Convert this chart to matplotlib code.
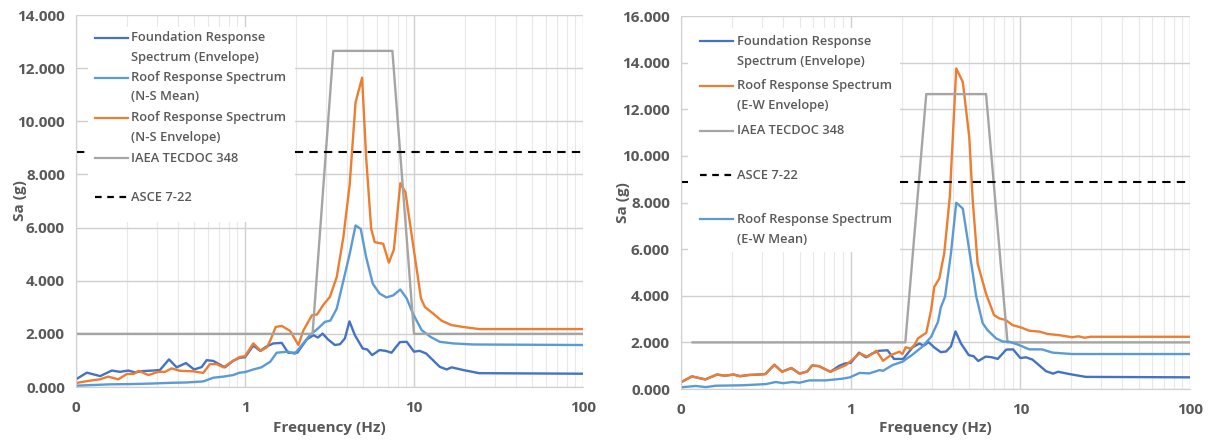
import matplotlib
matplotlib.use("Agg")
import matplotlib.pyplot as plt
from matplotlib.patches import Rectangle
from matplotlib.lines import Line2D
from matplotlib.ticker import FuncFormatter, LogLocator, MultipleLocator, NullFormatter

plt.rcParams['font.family'] = ['Open Sans', 'DejaVu Sans']
plt.rcParams['font.weight'] = 'bold'
plt.rcParams['axes.labelweight'] = 'bold'

# ---------------- data ----------------
# foundation envelope, same in both panels
found_f = [0.1, 0.116, 0.139, 0.163, 0.182, 0.204, 0.223, 0.25, 0.286, 0.314, 0.355,
           0.394, 0.447, 0.5, 0.554, 0.593, 0.65, 0.711, 0.76, 0.853, 0.93, 1.0, 1.12,
           1.23, 1.33, 1.47, 1.65, 1.8, 2.04, 2.32, 2.54, 2.7, 2.88, 3.1, 3.4, 3.65,
           3.9, 4.15, 4.47, 4.97, 5.3, 5.65, 6.25, 6.8, 7.36, 8.26, 9.06, 10.0, 10.8,
           11.8, 14.2, 15.6, 16.7, 19.5, 24.3, 100]
found_v = [0.29, 0.54, 0.41, 0.62, 0.57, 0.62, 0.55, 0.6, 0.62, 0.64, 1.04,
           0.74, 0.9, 0.66, 0.75, 1.01, 0.98, 0.84, 0.74, 0.99, 1.1, 1.12, 1.56,
           1.36, 1.51, 1.64, 1.66, 1.29, 1.29, 1.79, 1.95, 1.86, 2.01, 1.79, 1.58, 1.61,
           1.83, 2.47, 1.95, 1.45, 1.41, 1.2, 1.39, 1.36, 1.29, 1.69, 1.7, 1.33, 1.36,
           1.26, 0.76, 0.66, 0.74, 0.64, 0.52, 0.5]

# left panel: N-S
ns_mean_f = [0.1, 0.159, 0.209, 0.28, 0.376, 0.45, 0.566, 0.65, 0.745, 0.853, 0.93, 1.0,
             1.12, 1.25, 1.41, 1.54, 1.8, 1.97, 2.17, 2.42, 2.7, 2.97, 3.2, 3.49, 3.82,
             4.16, 4.51, 4.84, 5.21, 5.7, 6.25, 6.87, 7.54, 8.3, 9.06, 9.86, 11.1, 12.5,
             14.2, 17.1, 22.5, 100]
ns_mean_v = [0.05, 0.1, 0.11, 0.13, 0.16, 0.17, 0.21, 0.35, 0.39, 0.45, 0.54, 0.56,
             0.66, 0.74, 0.95, 1.29, 1.33, 1.25, 1.58, 1.95, 2.2, 2.45, 2.5, 2.95, 4.0,
             5.0, 6.08, 5.95, 4.89, 3.89, 3.52, 3.37, 3.45, 3.67, 3.33, 2.76, 2.14, 1.89,
             1.7, 1.64, 1.6, 1.58]

ns_env_f = [0.1, 0.121, 0.139, 0.155, 0.178, 0.2, 0.22, 0.234, 0.268, 0.307, 0.336,
            0.368, 0.412, 0.494, 0.566, 0.62, 0.68, 0.745, 0.853, 0.93, 1.0, 1.12, 1.24,
            1.35, 1.42, 1.52, 1.65, 1.85, 2.07, 2.22, 2.49, 2.67, 2.92, 3.18, 3.49, 3.82,
            4.16, 4.51, 4.93, 5.21, 5.58, 5.86, 6.57, 7.1, 7.6, 8.3, 8.9, 9.86, 11.0,
            11.6, 13.0, 14.6, 16.7, 19.5, 24.3, 100]
ns_env_v = [0.15, 0.24, 0.29, 0.39, 0.29, 0.49, 0.49, 0.61, 0.45, 0.57, 0.57,
            0.7, 0.61, 0.59, 0.53, 0.86, 0.86, 0.74, 0.99, 1.13, 1.16, 1.64, 1.36,
            1.5, 1.79, 2.26, 2.3, 2.11, 1.58, 2.14, 2.7, 2.73, 3.11, 3.39, 4.14, 5.64,
            7.6, 10.71, 11.64, 8.64, 5.95, 5.45, 5.39, 4.68, 5.17, 7.67, 7.33, 5.39, 3.33,
            3.01, 2.76, 2.49, 2.33, 2.26, 2.18, 2.18]

iaea_l_f = [0.1, 2.51, 3.33, 7.45, 10.0, 100]
iaea_r_f = [0.117, 2.1, 2.79, 6.28, 8.4, 100]
iaea_v = [2.0, 2.0, 12.65, 12.65, 2.0, 2.0]

asce_f = [0.1, 100]
asce_v = [8.86, 8.86]

# right panel: E-W
ew_env_f = [0.1, 0.116, 0.139, 0.163, 0.182, 0.204, 0.223, 0.25, 0.286, 0.314, 0.355,
            0.394, 0.447, 0.5, 0.554, 0.593, 0.65, 0.711, 0.76, 0.85, 0.94, 0.99, 1.13,
            1.26, 1.42, 1.55, 1.73, 1.94, 2.02, 2.11, 2.26, 2.38, 2.49, 2.79, 2.98, 3.11,
            3.33, 3.56, 3.84, 4.19, 4.58, 5.0, 5.24, 5.6, 6.27, 7.0, 7.5, 8.2, 9.0, 10.1,
            11.3, 13.0, 14.5, 16.9, 20.2, 22.0, 23.9, 26.0, 100]
ew_env_v = [0.29, 0.54, 0.41, 0.62, 0.57, 0.62, 0.55, 0.6, 0.62, 0.64, 1.04,
            0.74, 0.9, 0.66, 0.75, 1.01, 0.98, 0.84, 0.74, 0.89, 1.03, 1.17, 1.53,
            1.38, 1.64, 1.21, 1.46, 1.6, 1.5, 1.79, 1.73, 1.89, 2.17, 2.41, 3.39, 4.38,
            4.74, 5.82, 8.24, 13.75, 13.17, 10.81, 8.1, 5.39, 4.1, 3.17, 3.03, 2.96, 2.74, 2.64,
            2.5, 2.46, 2.36, 2.31, 2.22, 2.26, 2.2, 2.24, 2.24]

ew_mean_f = [0.1, 0.122, 0.14, 0.16, 0.23, 0.316, 0.362, 0.4, 0.453, 0.5, 0.57, 0.71,
             0.89, 0.99, 1.13, 1.29, 1.48, 1.55, 1.77, 2.02, 2.3, 2.64, 2.98, 3.27, 3.4,
             3.6, 3.9, 4.19, 4.58, 5.0, 5.5, 6.0, 6.4, 7.2, 7.9, 8.6, 9.8, 11.3, 13.4,
             15.5, 20.2, 100]
ew_mean_v = [0.07, 0.13, 0.08, 0.14, 0.16, 0.21, 0.3, 0.25, 0.3, 0.27, 0.37, 0.37,
             0.44, 0.5, 0.69, 0.67, 0.81, 0.78, 1.03, 1.17, 1.46, 1.81, 2.24, 2.88, 3.5,
             3.96, 5.82, 7.99, 7.74, 5.96, 3.96, 2.82, 2.53, 2.17, 2.03, 2.03, 1.89, 1.7, 1.7,
             1.56, 1.5, 1.5]

DBLUE = '#4472C4'
LBLUE = '#5B9BD5'
ORANGE = '#ED7D31'
GRAY = '#A5A5A5'
TXT = '#595959'

W, H = 1208, 444


def fx(px):
    return px / W


def fy(py):
    return 1 - py / H


fig = plt.figure(figsize=(W / 100, H / 100), dpi=100)
ax1 = fig.add_axes([fx(76), fy(387), (583 - 76) / W, (387 - 15) / H])
ax2 = fig.add_axes([fx(681), fy(389), (1190 - 681) / W, (389 - 16) / H])


def style(ax, ymax):
    ax.set_xscale('log')
    ax.set_xlim(0.1, 100)
    ax.set_ylim(0, ymax)
    ax.yaxis.set_major_locator(MultipleLocator(2))
    ax.yaxis.set_major_formatter(FuncFormatter(lambda v, p: f'{v:.3f}'))
    ax.xaxis.set_major_locator(LogLocator(base=10))
    ax.xaxis.set_minor_locator(LogLocator(base=10, subs=range(2, 10)))
    ax.xaxis.set_major_formatter(FuncFormatter(lambda v, p: f'{v:.0f}'))
    ax.xaxis.set_minor_formatter(NullFormatter())
    ax.grid(which='major', color='#D0D0D0', lw=1.0)
    ax.grid(which='minor', axis='x', color='#E8E8E8', lw=0.8)
    ax.set_axisbelow(True)
    ax.tick_params(which='both', length=0, colors=TXT, labelsize=11)
    ax.tick_params(axis='y', pad=8)
    ax.tick_params(axis='x', pad=10)
    for s in ['top', 'right']:
        ax.spines[s].set_visible(False)
    for s in ['left', 'bottom']:
        ax.spines[s].set_color('#D0D0D0')
    ax.set_xlabel('Frequency (Hz)', fontsize=11, fontweight='bold', color=TXT)
    ax.set_ylabel('Sa (g)', fontsize=11, fontweight='bold', color=TXT)


lw = 1.7
# left: N-S
ax1.plot(found_f, found_v, color=DBLUE, lw=lw)
ax1.plot(ns_mean_f, ns_mean_v, color=LBLUE, lw=lw)
ax1.plot(ns_env_f, ns_env_v, color=ORANGE, lw=lw)
ax1.plot(iaea_l_f, iaea_v, color=GRAY, lw=lw)
ax1.plot(asce_f, asce_v, color='black', lw=1.5, dashes=(4, 3))
style(ax1, 14)
ax1.xaxis.set_label_coords(0.5, (387 - 421) / 372)
ax1.yaxis.set_label_coords((27 - 76) / 507, 0.5)

# right: E-W
ax2.plot(found_f, found_v, color=DBLUE, lw=lw)
ax2.plot(ew_env_f, ew_env_v, color=ORANGE, lw=lw)
ax2.plot(iaea_r_f, iaea_v, color=GRAY, lw=lw)
ax2.plot(asce_f, asce_v, color='black', lw=1.5, dashes=(4, 3))
ax2.plot(ew_mean_f, ew_mean_v, color=LBLUE, lw=lw)
style(ax2, 16)
ax2.xaxis.set_label_coords(0.5, (389 - 421) / 373)
ax2.yaxis.set_label_coords((630 - 681) / 509, 0.5)


# legends drawn like Excel's: white box over the plot, handle beside first text line
def legend(box, hx, tx, rows, gap):
    x0, y0, x1, y1 = box
    fig.add_artist(Rectangle((fx(x0), fy(y1)), (x1 - x0) / W, (y1 - y0) / H,
                             transform=fig.transFigure, facecolor='white',
                             edgecolor='none', zorder=5))
    for y, color, dashed, lines in rows:
        ln = Line2D([fx(hx[0]), fx(hx[1])], [fy(y), fy(y)], transform=fig.transFigure,
                    color=color, lw=1.6, zorder=6)
        if dashed:
            ln.set_dashes((3, 2.5))
        fig.add_artist(ln)
        for i, s in enumerate(lines):
            fig.text(fx(tx), fy(y + i * gap), s, va='center', ha='left', fontsize=9.3,
                     fontweight='semibold', color=TXT, zorder=7)


legend((88, 27, 295, 222), (95, 128), 131, [
    (38, DBLUE, False, ['Foundation Response', 'Spectrum (Envelope)']),
    (78, LBLUE, False, ['Roof Response Spectrum', '(N-S Mean)']),
    (118, ORANGE, False, ['Roof Response Spectrum', '(N-S Envelope)']),
    (158, GRAY, False, ['IAEA TECDOC 348']),
    (197, 'black', True, ['ASCE 7-22']),
], 19)

legend((688, 28, 900, 252), (700, 733), 737, [
    (41, DBLUE, False, ['Foundation Response', 'Spectrum (Envelope)']),
    (86, ORANGE, False, ['Roof Response Spectrum', '(E-W Envelope)']),
    (131, GRAY, False, ['IAEA TECDOC 348']),
    (175, 'black', True, ['ASCE 7-22']),
    (219, LBLUE, False, ['Roof Response Spectrum', '(E-W Mean)']),
], 20)

fig.savefig('out.png', dpi=100)
